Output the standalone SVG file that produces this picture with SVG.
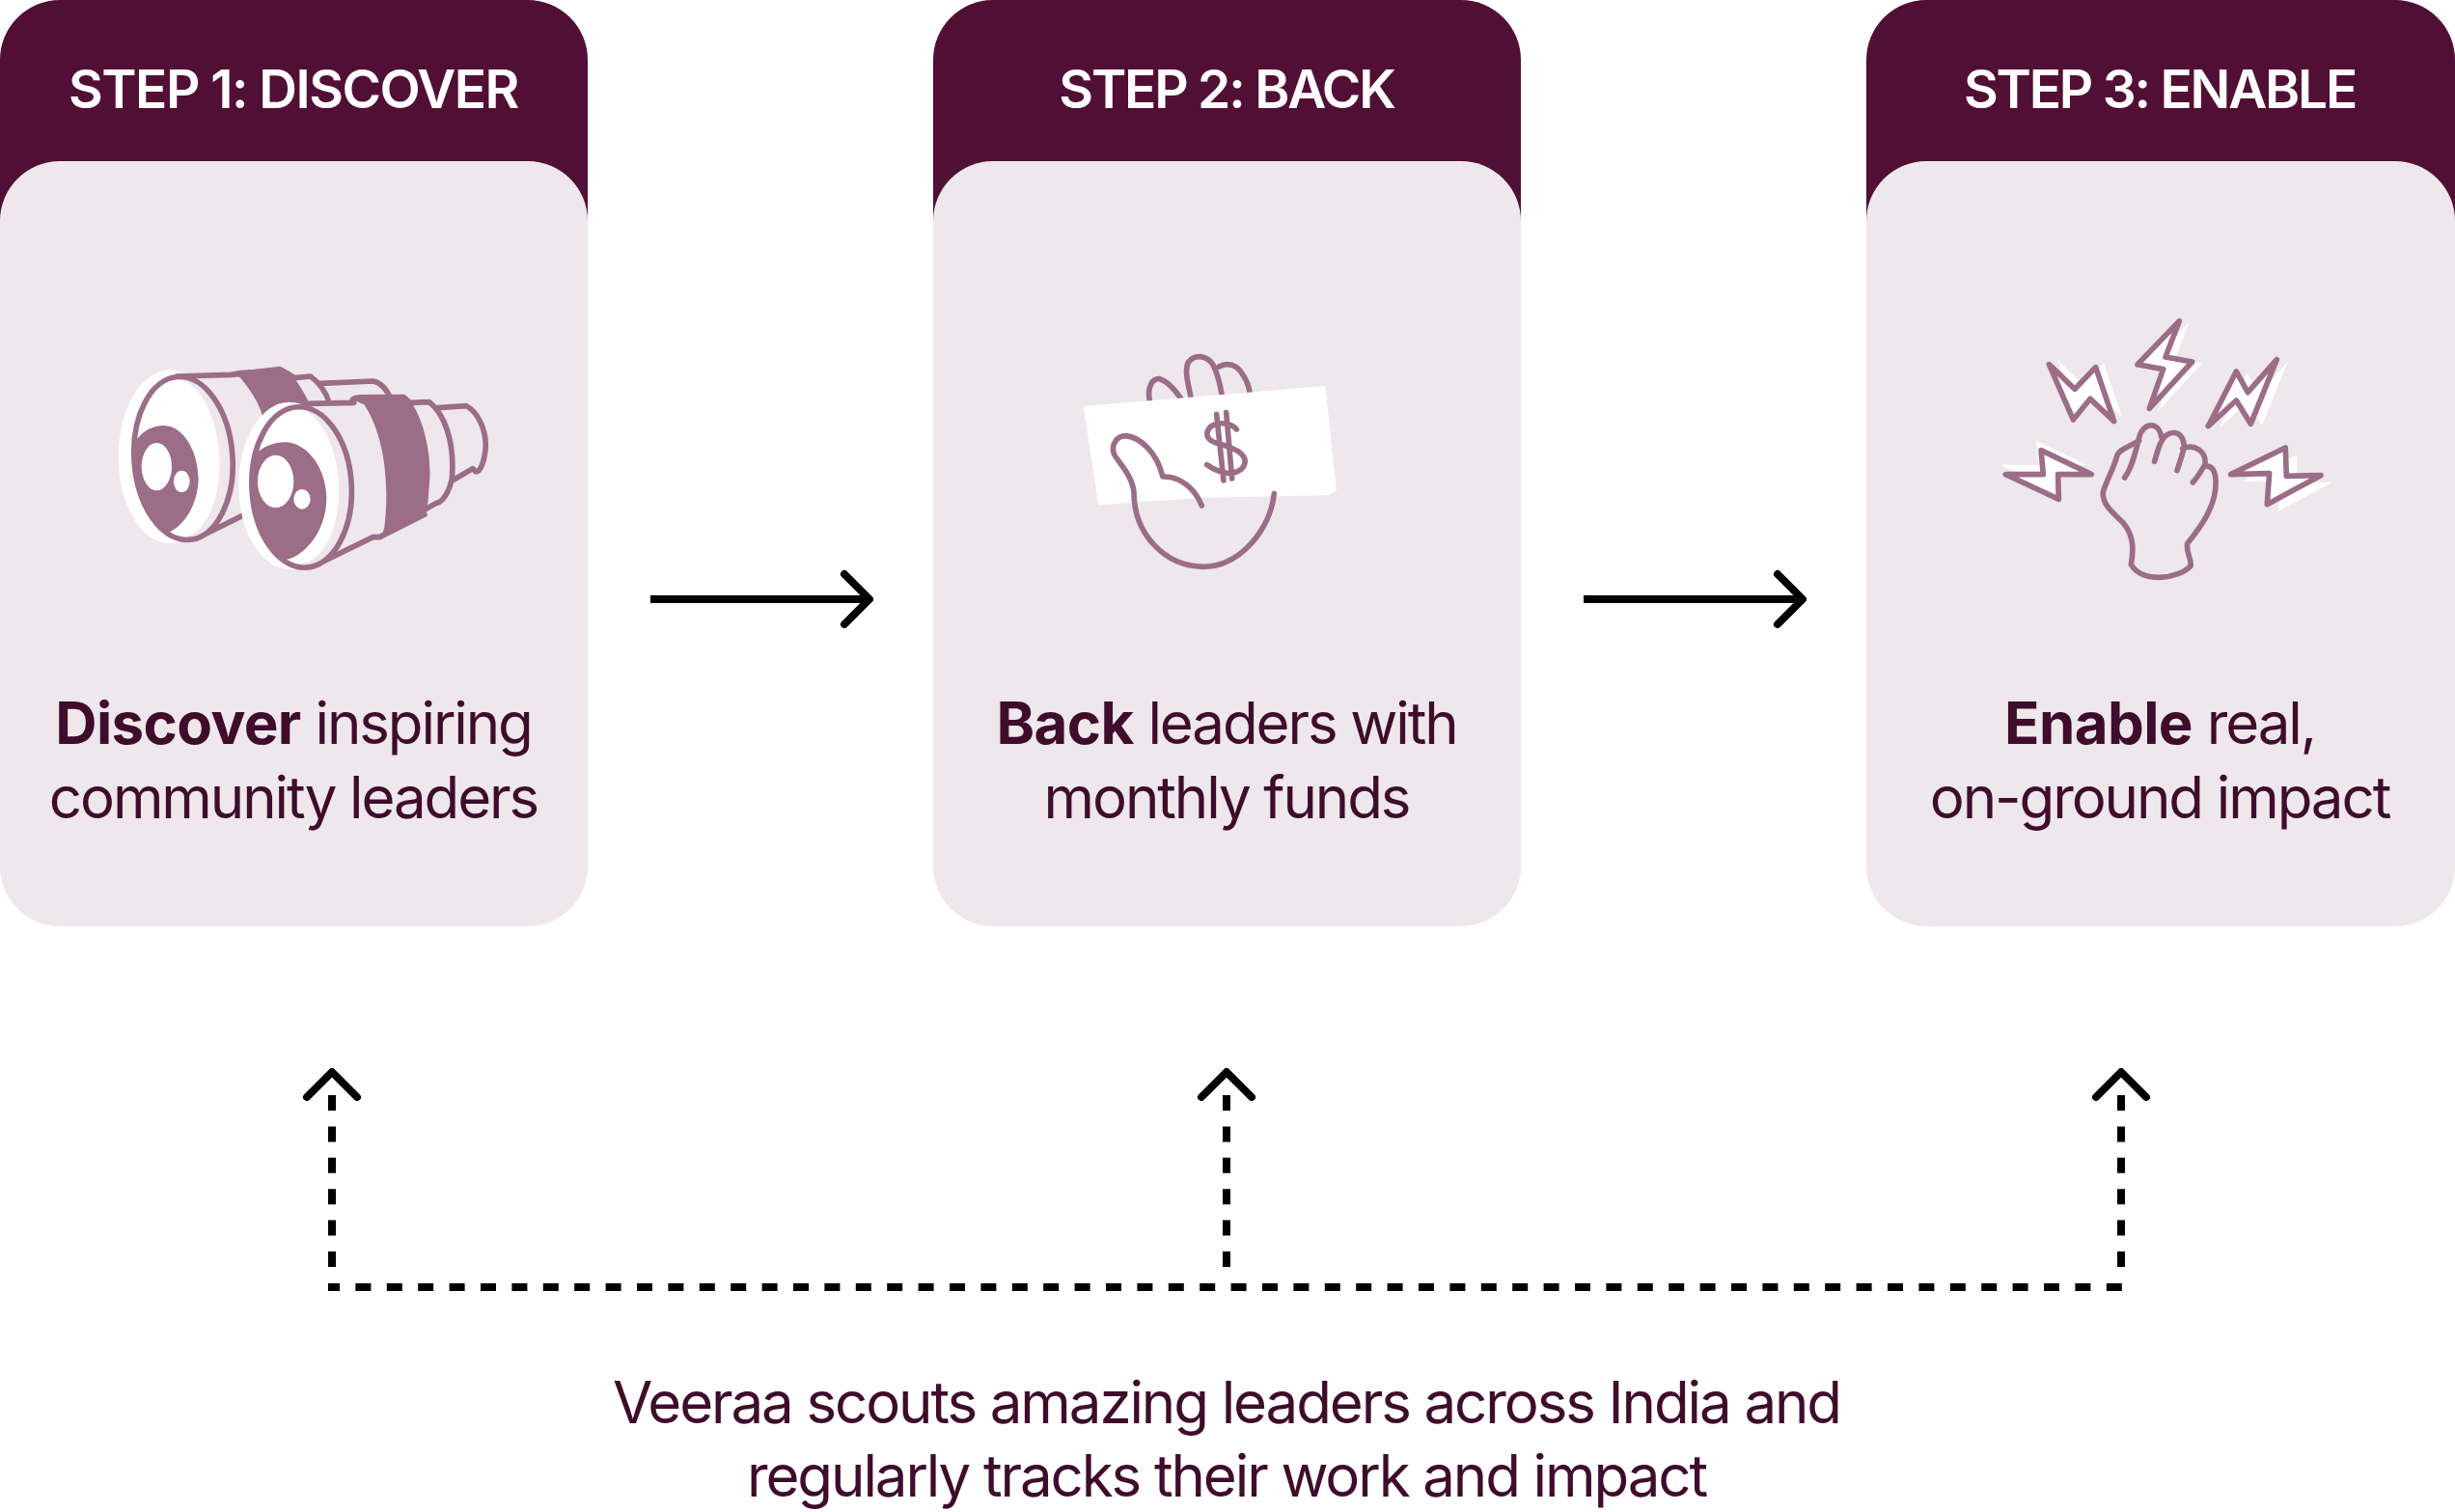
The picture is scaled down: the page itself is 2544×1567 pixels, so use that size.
<svg xmlns="http://www.w3.org/2000/svg" width="2544" height="1567" viewBox="0 0 2544 1567">
<style>
.hdr{fill:#520f35}.body{fill:#eee7ec}
.h{font:600 55px Inter,"Liberation Sans",sans-serif;fill:#fff;text-anchor:middle;letter-spacing:-2.2px}
.t{font:400 60px Inter,"Liberation Sans",sans-serif;fill:#3f0c2b;text-anchor:middle;letter-spacing:-2.1px}
.t tspan.b{font-weight:700;letter-spacing:-0.6px}
.i{fill:none;stroke:#9b6d87;stroke-width:17;stroke-linecap:round;stroke-linejoin:round}
.w{fill:#fff}.f{fill:#9b6d87}.bg{fill:#eee7ec}
.c{fill:none;stroke:#000;stroke-width:8}.ch{fill:none;stroke:#000;stroke-width:8;stroke-linecap:round;stroke-linejoin:round}
.d{stroke-dasharray:16 16.4}
</style>
<defs>
<clipPath id="lensA"><ellipse cx="300" cy="405" rx="153" ry="254" transform="rotate(-4 300 405)"/></clipPath>
<clipPath id="lensB"><ellipse cx="668" cy="495" rx="155" ry="250" transform="rotate(-3 668 495)"/></clipPath>
</defs>
<g id="step1">
<rect class="hdr" x="0" y="0" width="609" height="300" rx="62"/>
<rect class="body" x="0" y="167" width="609" height="793" rx="62"/>
<text class="h" x="304" y="112" style="letter-spacing:-1.5px">STEP 1: DISCOVER</text>
<g transform="translate(90 340) scale(.3333)">
<ellipse class="w" cx="258" cy="400" rx="160" ry="270"/>
<path class="i" d="M280 150L450 145L600 128L630 145L645 155L695 150C725 170 745 205 755 235M725 172L890 165C915 170 932 190 945 220M340 655L520 565"/>
<path class="f" d="M445 140C460 128 540 130 600 122C620 125 630 140 640 150C665 180 680 210 695 240L552 310C550 250 510 195 478 155Z"/>
<ellipse class="bg" cx="300" cy="405" rx="155" ry="255" transform="rotate(-4 300 405)"/>
<ellipse class="w" cx="282" cy="405" rx="130" ry="247" transform="rotate(-3 282 405)"/>
<path class="f" clip-path="url(#lensA)" d="M150 355C170 320 205 303 240 303C300 305 345 380 347 470C345 540 310 610 255 635L120 660L120 355Z"/>
<ellipse class="w" cx="217" cy="431" rx="47" ry="74"/><ellipse class="w" cx="295" cy="477" rx="25" ry="34"/>
<ellipse class="i" cx="300" cy="405" rx="153" ry="254" transform="rotate(-4 300 405)"/>
<ellipse class="w" cx="630" cy="490" rx="158" ry="260"/>
<path class="bg" d="M690 235L830 225L1065 230C1110 265 1140 340 1135 470L1090 545L890 650L705 740L660 500Z"/>
<path class="i" d="M690 235L830 232M825 225C830 212 860 215 985 215L1005 232L1065 230C1110 265 1145 350 1135 470C1125 510 1110 540 1085 545L1050 565M1050 580L910 650L890 650L705 740M1090 248L1180 242C1220 265 1240 320 1240 365C1238 410 1225 445 1210 447L1200 437L1135 475"/>
<path class="f" d="M825 222C835 208 880 215 985 215L1015 240C1050 300 1070 390 1066 470L1060 545L1050 580L915 652L925 620C940 500 930 340 862 238Z"/>
<ellipse class="bg" cx="668" cy="495" rx="155" ry="250" transform="rotate(-3 668 495)"/>
<ellipse class="w" cx="650" cy="490" rx="133" ry="243" transform="rotate(-3 650 490)"/>
<path class="f" clip-path="url(#lensB)" d="M520 395C550 365 590 353 620 355C690 360 745 440 745 530C745 610 700 690 630 718L490 740L490 395Z"/>
<ellipse class="w" cx="587" cy="477" rx="56" ry="82"/><ellipse class="w" cx="669" cy="532" rx="26" ry="31"/>
<ellipse class="i" cx="668" cy="495" rx="155" ry="250" transform="rotate(-3 668 495)"/>
</g>
<text class="t" x="304" y="771"><tspan class="b">Discover</tspan> inspiring</text>
<text class="t" x="304" y="848">community leaders</text>
</g>
<g id="step2">
<rect class="hdr" x="967" y="0" width="609" height="300" rx="62"/>
<rect class="body" x="967" y="167" width="609" height="793" rx="62"/>
<text class="h" x="1271" y="112">STEP 2: BACK</text>
<g transform="translate(1090 340) scale(.3333)">
<path class="i" d="M304 225C295 180 315 155 335 158C360 165 385 195 402 220M432 215C425 175 410 130 425 105C445 80 480 85 500 112C515 140 522 170 528 205M520 120C545 105 575 115 590 140C605 160 612 180 615 200"/>
<path class="w" d="M98 243L850 180L885 505L860 520L470 527L145 550Z"/>
<path class="i" d="M691 515C680 620 590 742 470 742C350 740 255 640 255 510C250 460 210 420 195 395C180 360 205 335 230 335C275 340 325 385 345 462C400 460 445 500 466 552"/>
<path class="i" d="M512 268L534 474M542 262L560 468M574 315C560 295 520 290 495 305C470 330 485 352 520 360C570 375 605 390 600 420C590 455 540 465 482 425"/>
</g>
<text class="t" x="1271" y="771"><tspan class="b">Back</tspan> leaders with</text>
<text class="t" x="1271" y="848">monthly funds</text>
</g>
<g id="step3">
<rect class="hdr" x="1934" y="0" width="610" height="300" rx="62"/>
<rect class="body" x="1934" y="167" width="610" height="793" rx="62"/>
<text class="h" x="2238" y="112">STEP 3: ENABLE</text>
<g transform="translate(2040 310) scale(.3333)">
<g class="w">
<path transform="translate(30 5)" d="M655 68L612 180L695 195L562 340L605 218L525 203Z"/>
<path transform="translate(25 -15)" d="M250 203L330 280L395 212L452 380L378 310L325 375Z"/>
<path transform="translate(35 5)" d="M958 188L868 290L832 225L745 395L832 315L877 388Z"/>
<path transform="translate(-15 -30)" d="M115 545L232 545L225 470L382 545L278 545L280 622Z"/>
<path transform="translate(35 22)" d="M815 545L985 462L988 550L1095 548L928 638L935 542Z"/>
</g>
<g class="i">
<path style="fill:#fff" d="M655 68L612 180L695 195L562 340L605 218L525 203Z"/>
<path style="fill:#fff" d="M250 203L330 280L395 212L452 380L378 310L325 375Z"/>
<path style="fill:#fff" d="M958 188L868 290L832 225L745 395L832 315L877 388Z"/>
<path style="fill:#fff" d="M115 545L232 545L225 470L382 545L278 545L280 622Z"/>
<path style="fill:#fff" d="M815 545L985 462L988 550L1095 548L928 638L935 542Z"/>
<path d="M485 555C510 520 520 470 530 430C540 385 590 375 600 430M578 505C590 460 600 430 620 420C650 405 680 430 665 480L648 533M665 465C700 450 740 470 735 515C725 530 715 550 697 570M735 520C760 515 770 540 768 580C765 650 720 710 680 760C675 790 695 810 690 830C650 870 540 885 505 825C515 770 510 730 480 695C450 665 415 640 418 600C430 560 450 530 462 485C470 465 500 460 530 440"/>
</g>
</g>
<text class="t" x="2238" y="771"><tspan class="b">Enable</tspan> real,</text>
<text class="t" x="2238" y="848">on-ground impact</text>
</g>
<g id="connectors">
<path class="c" d="M674 621H900M1641 621H1868"/>
<path class="ch" d="M875 595L901 621L875 647M1842 595L1868 621L1842 647"/>
<path class="c d" d="M344 1135V1314M1271 1135V1314M2198 1135V1314"/>
<path class="c d" stroke-dashoffset="4" d="M340 1334H2202"/>
<path class="ch" d="M318 1137L344 1111L370 1137M1245 1137L1271 1111L1297 1137M2172 1137L2198 1111L2224 1137"/>
</g>
<g id="caption">
<text class="t" x="1271" y="1475">Veeraa scouts amazing leaders across India and</text>
<text class="t" x="1271" y="1551">regularly tracks their work and impact</text>
</g>
</svg>
